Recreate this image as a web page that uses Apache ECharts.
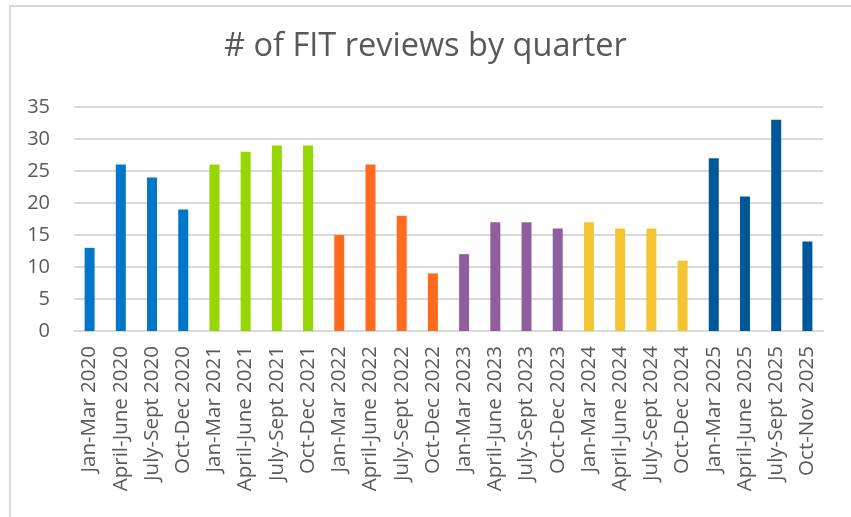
<!DOCTYPE html>
<html>
<head>
<meta charset="utf-8">
<script src="https://cdn.jsdelivr.net/npm/echarts@6/dist/echarts.min.js"></script>
<style>
  html, body { margin: 0; padding: 0; background: #fff; }
  #chart { width: 851px; height: 517px; }
</style>
</head>
<body>
<div id="chart"></div>
<script>
// quarters on the x axis
const quarters = [
  'Jan-Mar 2020', 'April-June 2020', 'July-Sept 2020', 'Oct-Dec 2020',
  'Jan-Mar 2021', 'April-June 2021', 'July-Sept 2021', 'Oct-Dec 2021',
  'Jan-Mar 2022', 'April-June 2022', 'July-Sept 2022', 'Oct-Dec 2022',
  'Jan-Mar 2023', 'April-June 2023', 'July-Sept 2023', 'Oct-Dec 2023',
  'Jan-Mar 2024', 'April-June 2024', 'July-Sept 2024', 'Oct-Dec 2024',
  'Jan-Mar 2025', 'April-June 2025', 'July-Sept 2025', 'Oct-Nov 2025'
]
// number of reviews per quarter
const reviews = [13, 26, 24, 19, 26, 28, 29, 29, 15, 26, 18, 9, 12, 17, 17, 16, 17, 16, 16, 11, 27, 21, 33, 14]
// one colour per year, 2020..2025
const yearColors = ['#0077C8', '#97D700', '#FF6A1F', '#905E9E', '#F2C531', '#00589A']
const yTicks = [0, 5, 10, 15, 20, 25, 30, 35]

const chart = echarts.init(document.getElementById('chart'))

const font = '"Open Sans", "Noto Sans", sans-serif'

chart.setOption({
  animation: false,
  title: {
    text: '# of FIT reviews by quarter',
    left: 'center',
    top: 25,
    textStyle: { fontFamily: font, fontSize: 32.5, fontWeight: 'normal', color: '#595959' }
  },
  graphic: [{
    type: 'rect',
    shape: { x: 10, y: 6, width: 900, height: 600 },
    style: { fill: 'none', stroke: '#d9d9d9', lineWidth: 2 },
    silent: true
  }],
  grid: { left: 74, right: 28, top: 107, bottom: 186 },
  xAxis: {
    type: 'category',
    data: quarters,
    axisLine: { lineStyle: { color: '#d9d9d9', width: 2 } },
    axisTick: { show: false },
    axisLabel: {
      rotate: 90,
      interval: 0,
      margin: 15,
      fontFamily: font,
      fontSize: 20.5,
      color: '#595959'
    }
  },
  yAxis: {
    type: 'value',
    min: yTicks[0],
    max: yTicks[yTicks.length - 1],
    interval: 5,
    axisLine: { show: false },
    axisTick: { show: false },
    axisLabel: { fontFamily: font, fontSize: 20, color: '#595959', margin: 24 },
    splitLine: { lineStyle: { color: '#d9d9d9', width: 2 } }
  },
  series: [{
    type: 'bar',
    barWidth: 10,
    data: reviews.map((v, i) => ({
      value: v,
      itemStyle: { color: yearColors[Math.floor(i / 4)] }
    }))
  }]
})
</script>
</body>
</html>
